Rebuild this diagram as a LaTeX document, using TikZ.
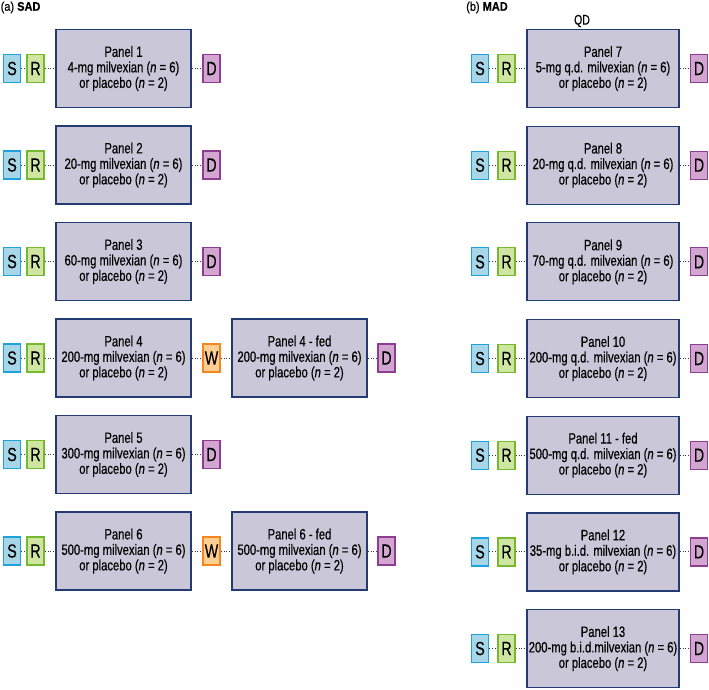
\documentclass[tikz,border=0pt]{standalone}
\usepackage{fontspec}
\setmainfont{Liberation Sans}[FakeStretch=0.75, FakeBold=0.35]
\newfontfamily\headfont{Liberation Sans}[FakeStretch=0.88, FakeBold=0.35]
\definecolor{panelfill}{HTML}{C9C7D8}
\definecolor{paneldraw}{HTML}{243A73}
\definecolor{sfill}{HTML}{A8D6E9}
\definecolor{sdraw}{HTML}{1FA2DB}
\definecolor{rfill}{HTML}{CFE6A3}
\definecolor{rdraw}{HTML}{76B82E}
\definecolor{dfill}{HTML}{D2A6D1}
\definecolor{ddraw}{HTML}{8F3C93}
\definecolor{wfill}{HTML}{FECE93}
\definecolor{wdraw}{HTML}{F5861F}
\tikzset{
  panel/.style={draw=paneldraw, fill=panelfill, line width=1.3pt, minimum width=135pt, minimum height=78pt, align=center, inner sep=0pt, font=\fontsize{15}{15.5}\selectfont},
  widepanel/.style={panel, minimum width=152pt},
  letterbox/.style={minimum width=17pt, minimum height=28pt, line width=1.3pt, inner sep=0pt, font=\fontsize{19}{19}\selectfont},
  sbox/.style={letterbox, draw=sdraw, fill=sfill},
  rbox/.style={letterbox, draw=rdraw, fill=rfill},
  dbox/.style={letterbox, draw=ddraw, fill=dfill},
  wbox/.style={letterbox, draw=wdraw, fill=wfill},
  conn/.style={dotted, line width=0.9pt, black!80},
  head/.style={anchor=west, inner sep=0pt, font=\headfont\fontsize{12.5}{13}\selectfont},
}
\begin{document}
\begin{tikzpicture}[x=1pt, y=-1pt]
\useasboundingbox (0,0) rectangle (709,689);
\node[head] (ha) at (0.5,7.5) {(a) \textbf{SAD}};
\node[head] (hb) at (466,7.5) {(b) \textbf{MAD}};
\node[font=\fontsize{14}{14}\selectfont, inner sep=0pt] (qd) at (582,21) {QD};
% SAD column
\foreach \i/\k/\dose in {1/0/4,2/1/20,3/2/60,4/3/200,5/4/300,6/5/500} {
  \pgfmathsetmacro\yy{68.5+96.5*\k}
  \node[sbox] (S\i) at (12,\yy) {S};
  \node[rbox] (R\i) at (35.5,\yy) {R};
  \node[panel] (P\i) at (123.5,\yy) {Panel \i\\\dose-mg milvexian (\textit{n} = 6)\\or placebo (\textit{n} = 2)};
  \draw[conn] (S\i) -- (R\i);
  \draw[conn] (R\i) -- (P\i);
}
\foreach \i/\k in {1/0,2/1,3/2,5/4} {
  \pgfmathsetmacro\yy{68.5+96.5*\k}
  \node[dbox] (D\i) at (211.5,\yy) {D};
  \draw[conn] (P\i) -- (D\i);
}
\foreach \i/\k/\dose in {4/3/200,6/5/500} {
  \pgfmathsetmacro\yy{68.5+96.5*\k}
  \node[wbox] (W\i) at (211.5,\yy) {W};
  \node[panel] (F\i) at (299.5,\yy) {Panel \i\ - fed\\\dose-mg milvexian (\textit{n} = 6)\\or placebo (\textit{n} = 2)};
  \node[dbox] (D\i) at (386.5,\yy) {D};
  \draw[conn] (P\i) -- (W\i);
  \draw[conn] (W\i) -- (F\i);
  \draw[conn] (F\i) -- (D\i);
}
% MAD column
\foreach \i/\k/\ttl/\dose in {7/0/Panel 7/5-mg q.d. milvexian,8/1/Panel 8/20-mg q.d. milvexian,9/2/Panel 9/70-mg q.d. milvexian,10/3/Panel 10/200-mg q.d. milvexian,11/4/Panel 11 - fed/500-mg q.d. milvexian,12/5/Panel 12/35-mg b.i.d. milvexian,13/6/Panel 13/200-mg b.i.d.milvexian} {
  \pgfmathsetmacro\yy{68.5+96.67*\k}
  \node[sbox] (S\i) at (480,\yy) {S};
  \node[rbox] (R\i) at (506.5,\yy) {R};
  \node[widepanel] (P\i) at (603,\yy) {\ttl\\\dose\ (\textit{n} = 6)\\or placebo (\textit{n} = 2)};
  \node[dbox] (D\i) at (699,\yy) {D};
  \draw[conn] (S\i) -- (R\i);
  \draw[conn] (R\i) -- (P\i);
  \draw[conn] (P\i) -- (D\i);
}
\end{tikzpicture}
\end{document}
